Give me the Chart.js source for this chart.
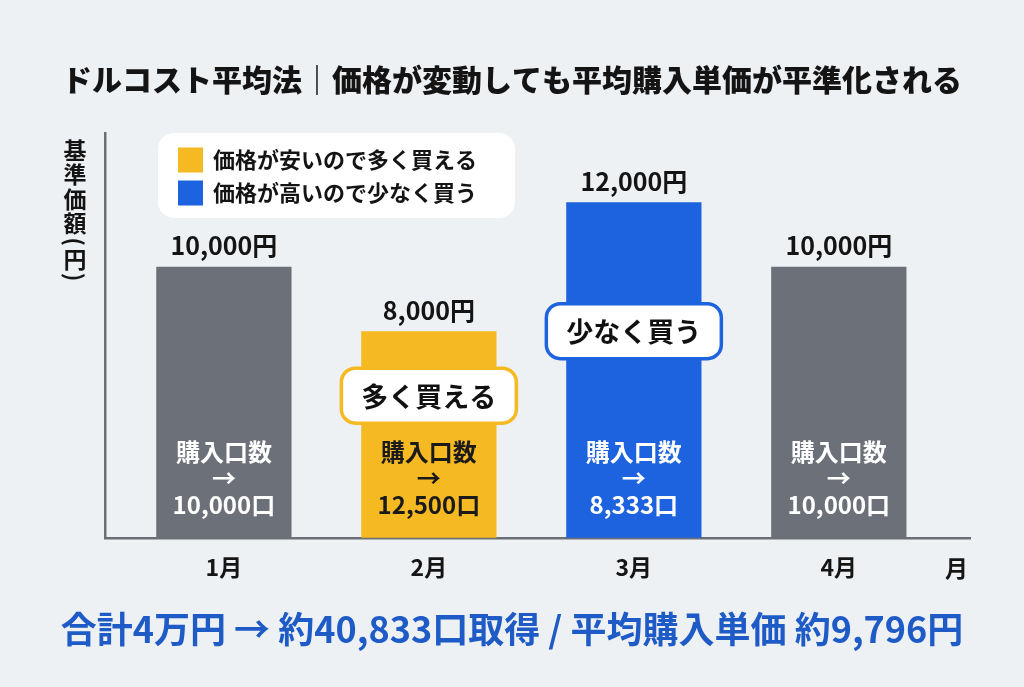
<!DOCTYPE html>
<html><head><meta charset="utf-8">
<script src="https://cdn.jsdelivr.net/npm/chart.js@4"></script>
<style>html,body{margin:0;padding:0;background:#eef1f4;overflow:hidden;}</style>
</head><body>
<canvas id="c" width="1024" height="687"></canvas>
<script>
// ---- data ----
const titleText = 'ドルコスト平均法｜価格が変動しても平均購入単価が平準化される';
const summaryText = '合計4万円 → 約40,833口取得 / 平均購入単価 約9,796円';
const months = ['1月', '2月', '3月', '4月'];
const xEndLabel = '月';
const prices = [10000, 8000, 12000, 10000];
const units = [10000, 12500, 8333, 10000];
const innerHeader = ['購入口数', '→'];
const callouts = [null, '多く買える', '少なく買う', null];
const calloutLevels = [null, 6000, 8000, null];
const legendLabels = ['価格が安いので多く買える', '価格が高いので少なく買う'];
const yTitleChars = ['基', '準', '価', '額', '(', '円', ')'];

// ---- styles ----
const GRAY = '#6b7079', YELLOW = '#f5b922', BLUE = '#1d63df';
const barColors = [GRAY, YELLOW, BLUE, GRAY];
const innerTextColors = ['#ffffff', '#1a1a1a', '#ffffff', '#ffffff'];
const legendColors = [YELLOW, BLUE];
const FONT = "'Noto Sans CJK JP', 'Noto Sans', sans-serif";

const overlay = {
  id: 'overlay',
  afterDatasetsDraw(chart) {
    const ctx = chart.ctx;
    const meta = chart.getDatasetMeta(0);
    const ys = chart.scales.y;
    const xs = chart.scales.x;
    const area = chart.chartArea;
    ctx.save();
    ctx.textAlign = 'center';
    ctx.textBaseline = 'middle';
    meta.data.forEach((bar, i) => {
      const base = Math.min(bar.base, area.bottom);
      ctx.font = `bold 25px ${FONT}`;
      ctx.fillStyle = '#141414';
      ctx.fillText(prices[i].toLocaleString('ja-JP') + '円', bar.x, bar.y - 21);
      ctx.fillStyle = innerTextColors[i];
      ctx.font = `bold 24px ${FONT}`;
      ctx.fillText(innerHeader[0], bar.x, base - 86);
      ctx.fillText(innerHeader[1], bar.x, base - 60);
      ctx.fillText(units[i].toLocaleString('ja-JP') + '口', bar.x, base - 33);
      if (callouts[i]) {
        const cy = ys.getPixelForValue(calloutLevels[i]);
        ctx.font = `bold 27px ${FONT}`;
        const w = ctx.measureText(callouts[i]).width + 40;
        const h = 55;
        ctx.beginPath();
        ctx.roundRect(bar.x - w / 2, cy - h / 2, w, h, 14);
        ctx.fillStyle = '#ffffff';
        ctx.fill();
        ctx.lineWidth = 3.5;
        ctx.strokeStyle = barColors[i];
        ctx.stroke();
        ctx.fillStyle = '#111111';
        ctx.fillText(callouts[i], bar.x, cy + 1);
      }
    });
    // end label of the x axis
    ctx.textAlign = 'right';
    ctx.font = `bold 23px ${FONT}`;
    ctx.fillStyle = '#151515';
    ctx.fillText(xEndLabel, xs.right - 2, xs.top + 30);
    // legend box
    const lx = area.left + 53, ly = area.top;
    ctx.beginPath();
    ctx.roundRect(lx, ly, 357, 85, 16);
    ctx.fillStyle = '#ffffff';
    ctx.fill();
    ctx.textAlign = 'left';
    ctx.font = `bold 22px ${FONT}`;
    legendLabels.forEach((lab, j) => {
      const cy = ly + 27 + j * 33;
      ctx.fillStyle = legendColors[j];
      ctx.fillRect(lx + 20, cy - 12.5, 25, 25);
      ctx.fillStyle = '#141414';
      ctx.fillText(lab, lx + 55, cy);
    });
    // vertical y-axis title
    const tx = ys.left + 21;
    let ty = area.top + 5;
    ctx.textAlign = 'center';
    ctx.font = `bold 23px ${FONT}`;
    ctx.fillStyle = '#141414';
    yTitleChars.forEach(ch => {
      const half = (ch === '(' || ch === ')');
      const adv = half ? 11 : 24.5;
      const cy = ty + adv / 2;
      ctx.save();
      ctx.translate(tx, cy);
      if (half) ctx.rotate(Math.PI / 2);
      ctx.fillText(ch, 0, 0);
      ctx.restore();
      ty += adv;
    });
    ctx.restore();
  }
};

new Chart(document.getElementById('c'), {
  type: 'bar',
  data: {
    datasets: [{
      data: prices.map((v, i) => ({ x: i + 1, y: v })),
      backgroundColor: barColors,
      borderWidth: 0,
      barPercentage: 0.66,
      categoryPercentage: 1
    }]
  },
  options: {
    responsive: false,
    animation: false,
    layout: { padding: { left: 54, right: 54, top: 0, bottom: 0 } },
    scales: {
      x: {
        type: 'linear',
        min: 0.42,
        max: 4.64,
        offset: false,
        grid: { display: false, drawTicks: false },
        border: { display: true, color: '#6b6f75', width: 2.5 },
        afterBuildTicks: (s) => { s.ticks = months.map((m, i) => ({ value: i + 1 })); },
        afterFit: (s) => { s.height = 41; },
        ticks: {
          autoSkip: false, maxRotation: 0, padding: 16,
          color: '#151515',
          font: { family: FONT, size: 23, weight: 'bold' },
          callback: (v) => months[v - 1] ?? ''
        }
      },
      y: {
        min: 1590,
        max: 14150,
        grid: { display: false, drawTicks: false },
        border: { display: true, color: '#6b6f75', width: 2.5 },
        ticks: { display: false },
        afterFit: (s) => { s.width = 51; }
      }
    },
    plugins: {
      legend: { display: false },
      tooltip: { enabled: false },
      title: {
        display: true, text: titleText, color: '#141414',
        font: { family: FONT, size: 30, weight: 900 },
        padding: { top: 62, bottom: 35 }
      },
      subtitle: {
        display: true, position: 'bottom', text: summaryText, color: '#1f5bc6',
        font: { family: FONT, size: 36, weight: 'bold' },
        padding: { top: 29, bottom: 36 }
      }
    }
  },
  plugins: [overlay]
});
</script>
</body></html>
